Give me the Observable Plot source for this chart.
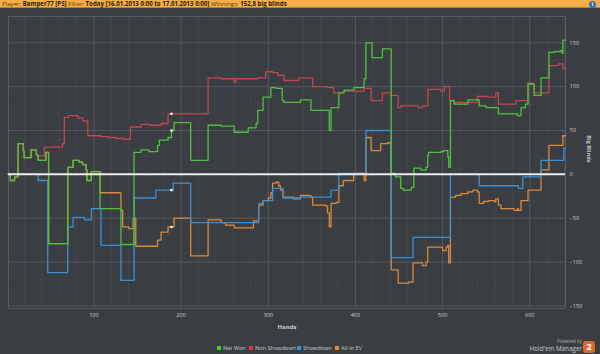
<!DOCTYPE html>
<html><head><meta charset="utf-8">
<script src="https://cdn.jsdelivr.net/npm/d3@7"></script>
<script src="https://cdn.jsdelivr.net/npm/@observablehq/plot@0.6"></script>
<style>
html,body{margin:0;padding:0}
body{background:#3a3d41;width:600px;height:354px;overflow:hidden;position:relative;font-family:"Open Sans",sans-serif}
#bar{position:absolute;left:0;top:0;width:600px;height:7px;background:#f4ad47;border-bottom:1px solid #b9822f;font-size:6.1px;line-height:7px;color:#5a3d10;white-space:nowrap}
#bar span{margin-left:2px}
#bar b{color:#2a2010;font-weight:700}
#info{position:absolute;right:4px;top:0.5px;width:7px;height:7px;border-radius:50%;background:#2f6fc0;color:#fff;font-size:5px;line-height:7px;text-align:center;font-weight:700}
#chart{position:absolute;left:0;top:9px}
#legend{position:absolute;top:344px;left:0;width:600px;height:9px;font-size:5.6px;color:#c9cbce;white-space:nowrap;line-height:9px}
#legend .it{position:absolute;top:0}
#legend .sw{display:inline-block;width:4px;height:4px;margin-right:2px;vertical-align:0px}
#pw{position:absolute;right:18px;top:338px;text-align:right;color:#aeb1b4;line-height:7px}
#pw .a{font-size:4.5px}
#pw .b{font-size:6.3px;color:#c9cbce}
#logo{position:absolute;right:5px;top:341px;width:12px;height:12px;background:#e2672a;border-radius:3px;color:#fff;font-weight:700;font-size:9px;line-height:12px;text-align:center}
</style></head>
<body>
<div id="bar"><span>Player: <b>Bamper77 [PS]</b> Filter: <b>Today [16.01.2013 0:00 to 17.01.2013 0:00]</b> Winnings: <b>152,8 big blinds</b></span></div>
<div id="info">i</div>
<div id="chart"></div>
<div id="legend"></div>
<div id="pw"><div class="a">Powered by</div><div class="b">Hold'em Manager</div></div>
<div id="logo">2</div>
<script>
// ---- data (hand number where value changes, value in big blinds) ----
const netWonHands = [1,4,9,13,19,20,28,34,36,45,48,70,76,83,87,91,92,97,107,131,146,154,163,173,175,185,189,192,211,231,246,261,277,286,288,294,303,309,316,318,337,349,370,372,381,387,398,410,412,419,431,438,441,446,452,455,464,467,475,481,483,484,498,501,506,507,509,513,529,542,550,564,586,590,595,598,605,613,622,628,635,637,638,641];
const netWonBB    = [0,-7,-3,35,27,19,28,22,16,25,-79,8,16,14,11,5,-7,3,-39,-80,25,28,26,33,39,42,50,59,16,56,55,48,53,58,73,88,99,98,84,82,85,73,50,76,93,96,99,109,150,133,143,143,1,-3,-16,-18,-15,7,5,8,22,25,26,27,20,8,84,80,85,78,76,69,67,76,80,103,90,110,139,140,141,138,153,153];

const nonShowdownHands = [1,4,9,13,19,20,28,34,36,43,64,66,71,82,87,93,108,116,125,134,142,154,165,177,185,231,246,261,263,288,297,305,311,318,335,351,368,375,387,410,418,431,441,449,452,472,477,483,498,502,508,513,540,552,561,564,584,598,604,605,622,633,638,641];
const nonShowdownBB    = [0,-7,-3,35,27,19,28,22,21,31,35,65,67,64,61,44,43,42,41,40,54,57,56,58,69,110,109,105,109,110,117,116,113,107,110,100,99,93,95,98,84,93,90,76,78,76,78,97,95,100,84,82,89,88,93,80,84,104,102,93,124,126,121,121];

const showdownHands = [1,36,47,70,76,89,97,108,131,146,171,191,211,289,294,305,317,337,372,381,412,441,466,509,542,587,590,592,613,639,641];
const showdownBB    = [0,-7,-112,-60,-49,-52,-39,-81,-121,-27,-18,-10,-55,-33,-30,-16,-27,-26,-18,1,50,-95,-72,0,-13,-16,-16,-3,16,30,30];

const allInEVHands = [1,4,9,13,19,20,28,34,36,45,48,70,76,83,87,91,92,97,107,131,133,140,145,148,173,177,185,192,211,231,246,251,261,283,289,294,300,303,305,309,312,314,317,329,337,349,351,366,368,370,372,378,381,386,398,410,412,418,429,437,441,449,461,466,477,481,483,500,504,506,507,509,515,521,529,535,540,542,547,553,559,561,564,567,582,586,587,590,598,607,613,622,638,641];
const allInEVBB    = [0,-7,-3,35,27,19,28,22,16,25,-79,8,16,14,11,5,-7,3,-21,-41,-60,-62,-50,-82,-75,-66,-60,-50,-93,-52,-55,-58,-61,-53,-35,-30,-27,-21,-10,-9,-13,-18,-26,-28,-24,-26,-35,-36,-44,-60,-33,-32,-13,-7,1,-7,42,27,35,36,-109,-124,-123,-101,-104,-100,-83,-87,-83,-81,-101,-26,-24,-22,-20,-18,-20,-33,-31,-30,-31,-28,-35,-39,-41,-39,-41,-30,-18,-18,5,33,44,44];

const seriesNames  = ["Net Won","Non Showdown","Showdown","All-In EV"];
const lineColors   = ["#4cc23d","#c2474f","#3b8fd3","#d98a3c"];
const legendColors = ["#35d52a","#e23a3a","#2b93e6","#f28b22"];
const legendLeft   = [217, 249, 297, 335];
const xTicks = [100,200,300,400,500,600];
const yTicks = [-150,-100,-50,0,50,100,150];
const markerHand = 189;

const seriesData = [
  [netWonHands, netWonBB],
  [nonShowdownHands, nonShowdownBB],
  [showdownHands, showdownBB],
  [allInEVHands, allInEVBB]
];
const rows = [];
seriesData.forEach(([hs, vs], i) => hs.forEach((h, j) => rows.push({series: seriesNames[i], hand: h, bb: vs[j], order: i})));
const markers = seriesData.map(([hs, vs], i) => {
  let v = vs[0];
  hs.forEach((h, j) => { if (h <= markerHand) v = vs[j]; });
  return {series: seriesNames[i], hand: markerHand, bb: v};
});
const drawOrder = [3, 2, 1, 0];

const minorX = d3.range(20, 641, 20).filter(v => v % 100 !== 0);
const minorY = d3.range(-150, 180, 10).filter(v => v % 50 !== 0);
const majorY = yTicks.filter(v => v !== 0);

const chart = Plot.plot({
  width: 600, height: 330,
  marginTop: 7, marginBottom: 31, marginLeft: 8, marginRight: 35,
  style: {background: "transparent", color: "#c9cbce", fontFamily: "'Open Sans', sans-serif", fontSize: "5.6px"},
  x: {domain: [2, 641]},
  y: {domain: [-153, 180]},
  marks: [
    Plot.ruleX(minorX, {stroke: "#43464b", strokeWidth: 1}),
    Plot.ruleY(minorY, {stroke: "#404348", strokeWidth: 1}),
    Plot.ruleX(xTicks, {stroke: "#55595e", strokeWidth: 1}),
    Plot.ruleY(majorY, {stroke: "#55595e", strokeWidth: 1}),
    Plot.frame({stroke: "#5a5e63"}),
    Plot.axisX({ticks: xTicks, tickSize: 0, tickPadding: 5, label: null, fill: "#c9cbce"}),
    Plot.axisY({anchor: "right", ticks: yTicks, tickSize: 0, tickPadding: 4, label: null, fill: "#c9cbce"}),
    ...drawOrder.map(i => Plot.line(rows.filter(r => r.order === i), {x: "hand", y: "bb", stroke: lineColors[i], strokeWidth: 1.3, curve: "step-after"})),
    Plot.ruleY([0], {stroke: "#ececec", strokeWidth: 2}),
    Plot.dot(markers, {x: "hand", y: "bb", r: 1.3, fill: "#ffffff", stroke: "none"}),
    Plot.text(["Hands"], {frameAnchor: "bottom", dy: 20, fontWeight: "bold", fontSize: 6, fill: "#d0d2d4"}),
    Plot.text(["Big Blinds"], {frameAnchor: "right", dx: 23, rotate: 90, fontWeight: "bold", fontSize: 5.6, fill: "#c9cbce"})
  ]
});
document.getElementById("chart").appendChild(chart);

const lg = document.getElementById("legend");
seriesNames.forEach((n, i) => {
  const it = document.createElement("span");
  it.className = "it";
  it.style.left = legendLeft[i] + "px";
  it.innerHTML = `<span class="sw" style="background:${legendColors[i]}"></span>${n}`;
  lg.appendChild(it);
});
</script>
</body></html>
